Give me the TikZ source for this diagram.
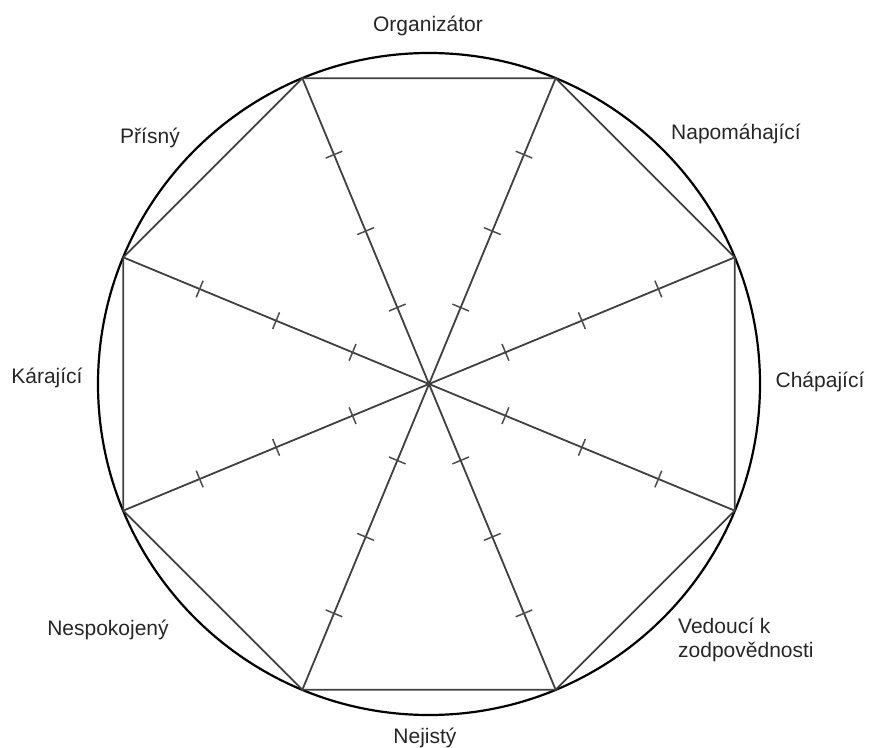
\documentclass[tikz,border=0pt]{standalone}
\usepackage{fontspec}
\setmainfont{Liberation Sans}
\tikzset{
	lab/.style={font=\fontsize{21}{24}\selectfont, inner sep=0pt, anchor=base, text=black!85},
	spoke/.style={draw=black!75, line width=1.8pt},
	notch/.style={sloped, draw=black!70, line width=1.5pt, minimum width=0pt, minimum height=18pt, inner sep=0pt, shape=rectangle},
}
\begin{document}
\begin{tikzpicture}[x=1pt,y=1pt]
	\useasboundingbox (-429,-363) rectangle (440,384);
	\coordinate (c) at (0,0);
	\coordinate (v1) at (22.5:331);
	\coordinate (v2) at (67.5:331);
	\coordinate (v3) at (112.5:331);
	\coordinate (v4) at (157.5:331);
	\coordinate (v5) at (202.5:331);
	\coordinate (v6) at (247.5:331);
	\coordinate (v7) at (292.5:331);
	\coordinate (v8) at (337.5:331);
	% kruh a osmiuhelnik
	\draw[line width=2.2pt] (c) circle (331);
	\draw[spoke] (v1) -- (v2) -- (v3) -- (v4) -- (v5) -- (v6) -- (v7) -- (v8) -- cycle;
	% paprsky s ryskami
	\draw[spoke] (c) -- (v1) node[notch,pos=.25] (t1a) {} node[notch,pos=.5] (t1b) {} node[notch,pos=.75] (t1c) {};
	\draw[spoke] (c) -- (v2) node[notch,pos=.25] (t2a) {} node[notch,pos=.5] (t2b) {} node[notch,pos=.75] (t2c) {};
	\draw[spoke] (c) -- (v3) node[notch,pos=.25] (t3a) {} node[notch,pos=.5] (t3b) {} node[notch,pos=.75] (t3c) {};
	\draw[spoke] (c) -- (v4) node[notch,pos=.25] (t4a) {} node[notch,pos=.5] (t4b) {} node[notch,pos=.75] (t4c) {};
	\draw[spoke] (c) -- (v5) node[notch,pos=.25] (t5a) {} node[notch,pos=.5] (t5b) {} node[notch,pos=.75] (t5c) {};
	\draw[spoke] (c) -- (v6) node[notch,pos=.25] (t6a) {} node[notch,pos=.5] (t6b) {} node[notch,pos=.75] (t6c) {};
	\draw[spoke] (c) -- (v7) node[notch,pos=.25] (t7a) {} node[notch,pos=.5] (t7b) {} node[notch,pos=.75] (t7c) {};
	\draw[spoke] (c) -- (v8) node[notch,pos=.25] (t8a) {} node[notch,pos=.5] (t8b) {} node[notch,pos=.75] (t8c) {};
	% popisky
	\node[lab] (org) at (-1,352) {Organizátor};
	\node[lab] (nap) at (307,244) {Napomáhající};
	\node[lab] (cha) at (391,-3) {Chápající};
	\node[lab,anchor=base west,align=left] (ved) at (249,-273) {Vedoucí k\\zodpovědnosti};
	\node[lab] (nej) at (-4,-359) {Nejistý};
	\node[lab] (nes) at (-321,-251) {Nespokojený};
	\node[lab] (kar) at (-382,1) {Kárající};
	\node[lab] (pri) at (-279,240) {Přísný};
\end{tikzpicture}
\end{document}
